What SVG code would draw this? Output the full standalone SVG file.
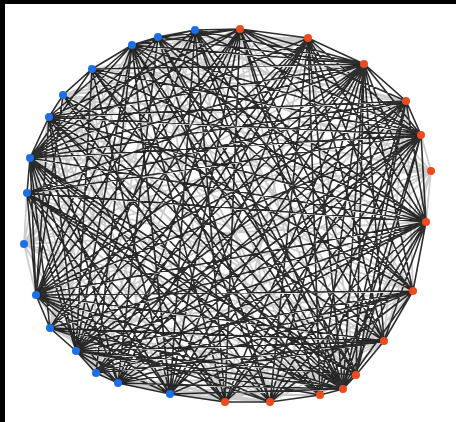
<svg xmlns="http://www.w3.org/2000/svg" width="456" height="422" viewBox="0 0 456 422">
<style>
.lt{fill:none;stroke:#000;stroke-opacity:0.2;stroke-width:1.8}
.dk{fill:none;stroke:#000;stroke-opacity:0.82;stroke-width:1.6}
.b{fill:#1c6fe6}
.r{fill:#ee4a1f}
</style>
<rect x="0" y="0" width="456" height="422" fill="#fff"/>
<rect x="0" y="0" width="456" height="4" fill="#000"/>
<rect x="0" y="0" width="5" height="422" fill="#000"/>
<g id="edges">
<path class="lt" d="M431 171L30 158M431 171L27 193M431 171L36 295M431 171L76 351M431 171L343 389M431 171L225 402M431 171L132 45M431 171L195 30M431 171L118 383M431 171L384 341M431 171L63 95M431 171L308 38M431 171L426 222M431 171L421 135M24 244L426 222M24 244L421 135M24 244L364 64M24 244L384 341M24 244L132 45M24 244L270 402M24 244L195 30M24 244L343 389M24 244L96 373M24 244L240 29M24 244L49 117M24 244L27 193M24 244L36 295M63 95L421 135M63 95L426 222M63 95L225 402M63 95L170 394M63 95L308 38M63 95L240 29M63 95L76 351M63 95L356 375M92 69L426 222M92 69L225 402M92 69L308 38M92 69L413 291M92 69L96 373M195 30L27 193M195 30L50 328M195 30L270 402M195 30L356 375M158 37L50 328M158 37L225 402M158 37L320 395M158 37L384 341M158 37L406 101M158 37L308 38M132 45L50 328M132 45L320 395M132 45L384 341M132 45L406 101M132 45L308 38M92 69L118 383M92 69L356 375M92 69L406 101M49 117L96 373M49 117L270 402M49 117L356 375M49 117L413 291M49 117L308 38M30 158L96 373M30 158L384 341M27 193L96 373M27 193L270 402M27 193L384 341M27 193L413 291M27 193L308 38M27 193L118 383M36 295L96 373M36 295L320 395M36 295L356 375M50 328L170 394M50 328L225 402M50 328L320 395M50 328L356 375M50 328L413 291M96 373L225 402M96 373L270 402M96 373L356 375M96 373L240 29M118 383L225 402M118 383L270 402M118 383L356 375M118 383L406 101M170 394L270 402M170 394L320 395M170 394L356 375M170 394L384 341M225 402L384 341M225 402L413 291M270 402L384 341M270 402L406 101M320 395L384 341M320 395L413 291M320 395L240 29M356 375L308 38M384 341L406 101M413 291L406 101M413 291L240 29M195 30L96 373M158 37L27 193M240 29L36 295M308 38L63 95M406 101L24 244M364 64L63 95M270 402L240 29M225 402L308 38M118 383L195 30M170 394L132 45M320 395L63 95M413 291L30 158M356 375L27 193M384 341L50 328M426 222L24 244M421 135L50 328M158 37L96 373M92 69L50 328M49 117L170 394"/>
<path class="dk" d="M195 30L158 37L132 45L92 69L63 95L49 117L30 158L27 193M27 193L36 295M36 295L50 328L76 351L96 373L118 383L170 394L225 402L270 402L320 395L343 389L356 375L384 341L413 291L426 222M426 222L421 135L406 101L364 64L308 38L240 29L195 30
M364 64L195 30M364 64L158 37M364 64L132 45M364 64L92 69M364 64L49 117M364 64L30 158M364 64L27 193M364 64L36 295M364 64L50 328M364 64L76 351M364 64L96 373M364 64L118 383M364 64L170 394M364 64L225 402M364 64L270 402M364 64L320 395M364 64L343 389M364 64L356 375M364 64L384 341M364 64L413 291M364 64L426 222M364 64L421 135M364 64L240 29
M421 135L195 30M421 135L132 45M421 135L49 117M421 135L30 158M421 135L27 193M421 135L36 295M421 135L76 351M421 135L96 373M421 135L118 383M421 135L170 394M421 135L225 402M421 135L270 402M421 135L343 389M421 135L356 375M421 135L308 38M421 135L240 29M421 135L92 69
M426 222L158 37M426 222L132 45M426 222L92 69M426 222L49 117M426 222L30 158M426 222L27 193M426 222L36 295M426 222L50 328M426 222L76 351M426 222L96 373M426 222L118 383M426 222L225 402M426 222L270 402M426 222L320 395M426 222L343 389M426 222L384 341M426 222L406 101M426 222L240 29M426 222L308 38
M343 389L195 30M343 389L158 37M343 389L132 45M343 389L92 69M343 389L63 95M343 389L49 117M343 389L30 158M343 389L27 193M343 389L36 295M343 389L50 328M343 389L76 351M343 389L118 383M343 389L170 394M343 389L413 291M343 389L406 101M343 389L308 38M343 389L240 29
M76 351L195 30M76 351L132 45M76 351L92 69M76 351L49 117M76 351L30 158M76 351L27 193M76 351L118 383M76 351L170 394M76 351L320 395M76 351L356 375M76 351L384 341M76 351L413 291M76 351L406 101M76 351L308 38M76 351L240 29
M36 295L195 30M36 295L158 37M36 295L132 45M36 295L63 95M36 295L49 117M36 295L30 158M36 295L118 383M36 295L170 394M36 295L225 402M36 295L270 402M36 295L384 341M36 295L413 291M36 295L406 101M36 295L308 38M36 295L240 29
M30 158L195 30M30 158L158 37M30 158L132 45M30 158L92 69M30 158L50 328M30 158L118 383M30 158L225 402M30 158L270 402M30 158L320 395M30 158L356 375M30 158L406 101M30 158L308 38M30 158L240 29
M132 45L195 30M132 45L49 117M132 45L96 373M132 45L170 394M132 45L225 402M132 45L270 402M132 45L356 375M132 45L413 291M132 45L240 29
M240 29L158 37M240 29L49 117M240 29L50 328M240 29L118 383M240 29L170 394M240 29L225 402M240 29L356 375M240 29L384 341M240 29L406 101
M195 30L225 402M195 30L320 395M195 30L384 341M195 30L170 394M158 37L270 402M158 37L356 375M49 117L320 395M49 117L384 341M49 117L118 383M27 193L320 395M27 193L356 375M27 193L406 101M50 328L308 38M50 328L270 402M96 373L406 101M96 373L308 38M118 383L308 38M170 394L406 101M170 394L308 38M225 402L406 101M270 402L308 38M320 395L308 38M320 395L406 101M356 375L406 101M384 341L308 38M413 291L308 38M63 95L413 291M63 95L270 402M92 69L384 341M92 69L320 395M96 373L413 291M118 383L413 291M170 394L413 291M270 402L413 291M195 30L413 291M158 37L413 291M49 117L406 101M50 328L384 341M96 373L384 341M118 383L384 341M92 69L170 394M158 37L118 383M49 117L225 402M27 193L225 402M27 193L170 394M30 158L170 394"/>
</g>
<g id="n-b0"><circle class="b" cx="195" cy="30" r="4"/></g>
<g id="n-b1"><circle class="b" cx="158" cy="37" r="4"/></g>
<g id="n-b2"><circle class="b" cx="132" cy="45" r="4"/></g>
<g id="n-b3"><circle class="b" cx="92" cy="69" r="4"/></g>
<g id="n-b4"><circle class="b" cx="63" cy="95" r="4"/></g>
<g id="n-b5"><circle class="b" cx="49" cy="117" r="4"/></g>
<g id="n-b6"><circle class="b" cx="30" cy="158" r="4"/></g>
<g id="n-b7"><circle class="b" cx="27" cy="193" r="4"/></g>
<g id="n-b8"><circle class="b" cx="24" cy="244" r="4"/></g>
<g id="n-b9"><circle class="b" cx="36" cy="295" r="4"/></g>
<g id="n-b10"><circle class="b" cx="50" cy="328" r="4"/></g>
<g id="n-b11"><circle class="b" cx="76" cy="351" r="4"/></g>
<g id="n-b12"><circle class="b" cx="96" cy="373" r="4"/></g>
<g id="n-b13"><circle class="b" cx="118" cy="383" r="4"/></g>
<g id="n-b14"><circle class="b" cx="170" cy="394" r="4"/></g>
<g id="n-r0"><circle class="r" cx="225" cy="402" r="4"/></g>
<g id="n-r1"><circle class="r" cx="270" cy="402" r="4"/></g>
<g id="n-r2"><circle class="r" cx="320" cy="395" r="4"/></g>
<g id="n-r3"><circle class="r" cx="343" cy="389" r="4"/></g>
<g id="n-r4"><circle class="r" cx="356" cy="375" r="4"/></g>
<g id="n-r5"><circle class="r" cx="384" cy="341" r="4"/></g>
<g id="n-r6"><circle class="r" cx="413" cy="291" r="4"/></g>
<g id="n-r7"><circle class="r" cx="426" cy="222" r="4"/></g>
<g id="n-r8"><circle class="r" cx="431" cy="171" r="4"/></g>
<g id="n-r9"><circle class="r" cx="421" cy="135" r="4"/></g>
<g id="n-r10"><circle class="r" cx="406" cy="101" r="4"/></g>
<g id="n-r11"><circle class="r" cx="364" cy="64" r="4"/></g>
<g id="n-r12"><circle class="r" cx="308" cy="38" r="4"/></g>
<g id="n-r13"><circle class="r" cx="240" cy="29" r="4"/></g>
</svg>
